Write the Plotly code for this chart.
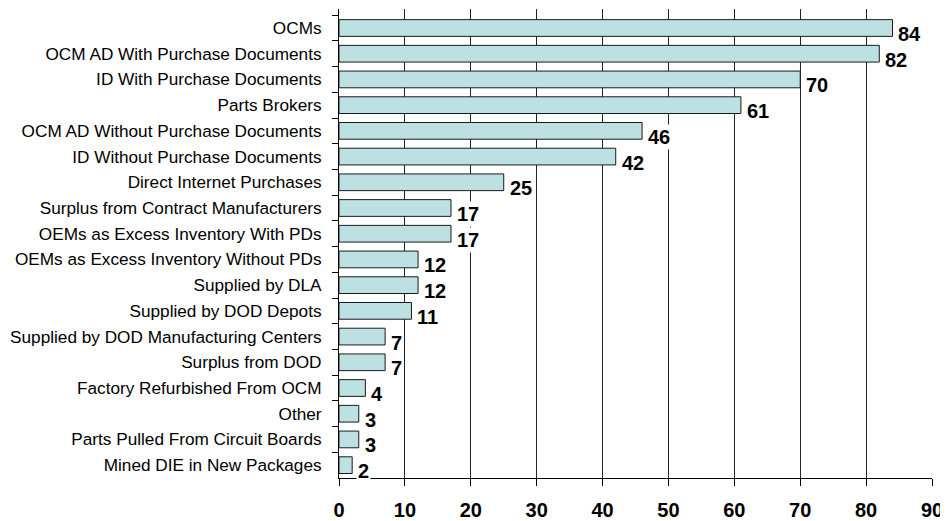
import plotly.graph_objects as go

categories = [
    "OCMs",
    "OCM AD With Purchase Documents",
    "ID With Purchase Documents",
    "Parts Brokers",
    "OCM AD Without Purchase Documents",
    "ID Without Purchase Documents",
    "Direct Internet Purchases",
    "Surplus from Contract Manufacturers",
    "OEMs as Excess Inventory With PDs",
    "OEMs as Excess Inventory Without PDs",
    "Supplied by DLA",
    "Supplied by DOD Depots",
    "Supplied by DOD Manufacturing Centers",
    "Surplus from DOD",
    "Factory Refurbished From OCM",
    "Other",
    "Parts Pulled From Circuit Boards",
    "Mined DIE in New Packages",
]
values = [84, 82, 70, 61, 46, 42, 25, 17, 17, 12, 12, 11, 7, 7, 4, 3, 3, 2]
x_ticks = [0, 10, 20, 30, 40, 50, 60, 70, 80, 90]

FONT = "Arial, Liberation Sans, sans-serif"

fig = go.Figure()
fig.add_trace(go.Bar(
    y=categories,
    x=values,
    orientation="h",
    marker=dict(color="#bde0e2", line=dict(color="#1a1a1a", width=1)),
    hoverinfo="x+y",
))

annotations = []
for c, v in zip(categories, values):
    annotations.append(dict(
        x=v, y=c, xref="x", yref="y",
        text=f"<b>{v}</b>", showarrow=False,
        xanchor="left", yanchor="middle",
        xshift=4, yshift=-6,
        bgcolor="white", borderpad=1,
        font=dict(family=FONT, size=20, color="black"),
    ))

# page body has an 8px margin; figure sized to fill the rest of the window
fig.update_layout(
    width=940, height=513,
    margin=dict(l=331, r=16, t=1, b=43, autoexpand=False),
    paper_bgcolor="white", plot_bgcolor="white",
    showlegend=False,
    bargap=0.35,
    annotations=annotations,
    font=dict(family=FONT, color="black"),
)
fig.update_xaxes(
    range=[0, 90], tickvals=x_ticks, ticktext=[f"<b>{t}</b>" for t in x_ticks],
    showgrid=True, gridcolor="#222222", gridwidth=1,
    showline=True, linecolor="black", linewidth=1,
    ticks="outside", ticklen=7, tickcolor="black",
    tickfont=dict(family=FONT, size=20, color="black"),
    ticklabelstandoff=7, automargin=False,
    zeroline=False, fixedrange=True,
)
fig.update_yaxes(
    categoryorder="array", categoryarray=categories, autorange="reversed",
    showline=True, linecolor="black", linewidth=1,
    ticks="outside", ticklen=6, tickcolor="black", tickson="boundaries",
    tickfont=dict(family=FONT, size=17.2, color="black"),
    ticklabelstandoff=13, automargin=False,
    showgrid=False, zeroline=False, fixedrange=True,
)

fig.write_html("out.html", config={"displayModeBar": False})
